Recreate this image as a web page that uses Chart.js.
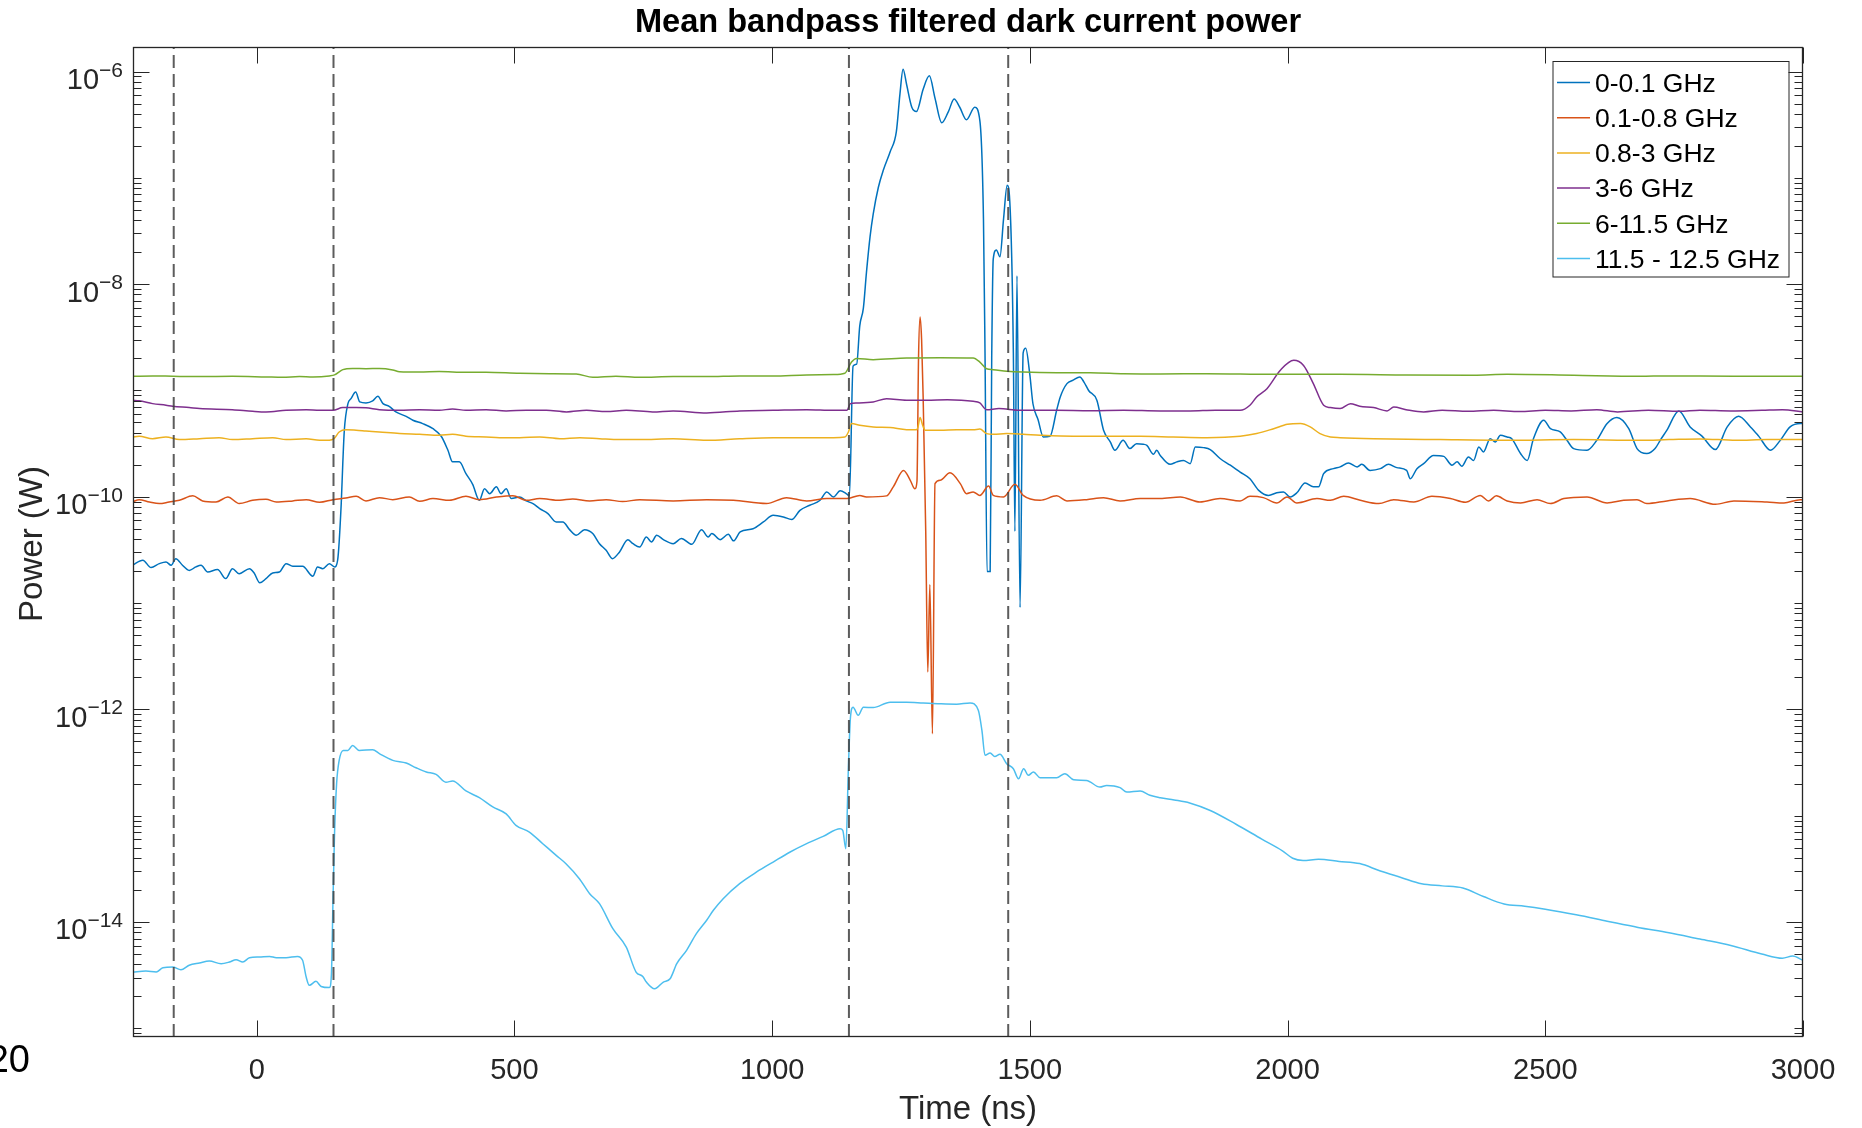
<!DOCTYPE html>
<html>
<head>
<meta charset="utf-8">
<script src="https://cdn.jsdelivr.net/npm/chart.js@4.4.1/dist/chart.umd.min.js"></script>
<style>
html,body{margin:0;padding:0;background:#fff;}
canvas{display:block;}
</style>
</head>
<body>
<canvas id="c" width="1862" height="1128"></canvas>
<script>
// ---------------- DATA (time in ns, power in W) ----------------
const chartTitle = 'Mean bandpass filtered dark current power';
const xAxisTitle = 'Time (ns)';
const yAxisTitle = 'Power (W)';
const seriesNames = ['0-0.1 GHz', '0.1-0.8 GHz', '0.8-3 GHz', '3-6 GHz', '6-11.5 GHz', '11.5 - 12.5 GHz'];
const xTickValues = [0, 500, 1000, 1500, 2000, 2500, 3000];
const yLabelExps = [-6, -8, -10, -12, -14];
const markerTimes = [-161, 149, 1149, 1458];
const xRange = [-240, 3000];
const yRange = [8.3e-16, 1.7e-6];

const band0 = [[-241,2.27e-11],[-221,2.53e-11],[-205,2.16e-11],[-189,2.35e-11],[-176,2.44e-11],[-166,2.27e-11],[-157,2.62e-11],[-144,2.27e-11],[-131,2.03e-11],[-118,2.19e-11],[-108,2.27e-11],[-95,1.96e-11],[-76,2.07e-11],[-60,1.70e-11],[-47,2.11e-11],[-34,1.89e-11],[-14,2.11e-11],[-5,1.92e-11],[6,1.55e-11],[18,1.70e-11],[31,1.92e-11],[44,1.96e-11],[57,2.35e-11],[70,2.22e-11],[89,2.22e-11],[109,1.79e-11],[118,2.19e-11],[128,2.11e-11],[141,2.35e-11],[151,2.19e-11],[157,2.53e-11],[164,8.63e-11],[167,2.05e-10],[170,4.23e-10],[177,7.52e-10],[183,8.38e-10],[192,9.68e-10],[200,7.80e-10],[212,7.63e-10],[225,7.97e-10],[235,8.81e-10],[245,7.52e-10],[257,7.10e-10],[270,6.28e-10],[290,5.71e-10],[303,5.25e-10],[322,4.88e-10],[342,4.37e-10],[358,3.71e-10],[371,2.74e-10],[380,2.13e-10],[393,2.13e-10],[406,1.65e-10],[419,1.31e-10],[432,9.27e-11],[442,1.19e-10],[452,1.07e-10],[465,1.24e-10],[474,1.07e-10],[484,1.19e-10],[494,9.62e-11],[510,9.96e-11],[523,9.14e-11],[536,8.63e-11],[549,7.74e-11],[565,6.95e-11],[581,5.80e-11],[594,5.80e-11],[607,4.91e-11],[620,4.35e-11],[636,4.91e-11],[652,4.51e-11],[665,3.62e-11],[678,3.14e-11],[690,2.62e-11],[704,3.03e-11],[720,3.95e-11],[730,3.62e-11],[743,3.37e-11],[756,4.19e-11],[766,3.76e-11],[776,4.35e-11],[789,3.95e-11],[808,3.62e-11],[824,4.05e-11],[844,3.57e-11],[863,4.91e-11],[876,4.19e-11],[883,4.51e-11],[899,3.95e-11],[915,4.44e-11],[925,3.85e-11],[938,4.67e-11],[963,5.01e-11],[983,5.80e-11],[1002,6.70e-11],[1022,6.46e-11],[1038,6.10e-11],[1054,7.46e-11],[1073,8.32e-11],[1093,9.27e-11],[1106,1.11e-10],[1119,9.96e-11],[1132,1.14e-10],[1145,1.06e-10],[1150,1.02e-10],[1157,1.69e-9],[1164,1.77e-9],[1170,4.05e-9],[1177,5.94e-9],[1183,1.29e-8],[1190,2.80e-8],[1196,4.54e-8],[1206,8.11e-8],[1216,1.19e-7],[1229,1.76e-7],[1241,2.72e-7],[1248,6.17e-7],[1254,1.05e-6],[1261,7.50e-7],[1271,4.61e-7],[1280,4.20e-7],[1293,6.81e-7],[1305,9.10e-7],[1316,5.61e-7],[1329,3.29e-7],[1342,4.20e-7],[1353,5.50e-7],[1364,4.61e-7],[1377,3.52e-7],[1393,4.61e-7],[1403,3.45e-7],[1410,4.11e-8],[1413,2.26e-9],[1417,1.98e-11],[1423,1.98e-11],[1426,2.0e-9],[1429,1.73e-8],[1435,2.10e-8],[1442,1.81e-8],[1449,4.11e-8],[1456,8.50e-8],[1461,6.07e-8],[1468,2.26e-9],[1471,4.73e-11],[1475,1.2e-8],[1481,9.1e-12],[1487,2.26e-9],[1492,2.49e-9],[1500,1.40e-9],[1506,7.5e-10],[1516,5.3e-10],[1526,3.66e-10],[1539,3.70e-10],[1552,6.51e-10],[1559,8.69e-10],[1572,1.16e-9],[1584,1.25e-9],[1597,1.34e-9],[1605,1.20e-9],[1614,1.00e-9],[1630,8.10e-10],[1643,4.23e-10],[1656,3.28e-10],[1665,2.74e-10],[1681,3.40e-10],[1694,2.84e-10],[1707,3.16e-10],[1720,3.12e-10],[1727,3.05e-10],[1740,2.51e-10],[1746,2.74e-10],[1753,2.45e-10],[1772,2.02e-10],[1785,2.13e-10],[1798,2.20e-10],[1811,2.05e-10],[1821,2.94e-10],[1837,2.90e-10],[1850,2.78e-10],[1869,2.29e-10],[1889,1.98e-10],[1908,1.71e-10],[1927,1.48e-10],[1944,1.15e-10],[1963,1.03e-10],[1979,1.09e-10],[1992,1.11e-10],[2005,9.96e-11],[2018,1.09e-10],[2034,1.35e-10],[2050,1.24e-10],[2060,1.24e-10],[2070,1.65e-10],[2089,1.84e-10],[2102,1.91e-10],[2118,2.08e-10],[2135,1.91e-10],[2144,2.02e-10],[2160,1.77e-10],[2180,1.84e-10],[2196,2.02e-10],[2212,1.88e-10],[2231,1.77e-10],[2238,1.48e-10],[2251,1.84e-10],[2264,2.05e-10],[2283,2.45e-10],[2303,2.40e-10],[2319,1.98e-10],[2329,2.13e-10],[2338,1.94e-10],[2351,2.37e-10],[2361,2.20e-10],[2371,2.94e-10],[2380,2.64e-10],[2393,3.52e-10],[2403,3.28e-10],[2413,3.79e-10],[2426,3.65e-10],[2435,3.52e-10],[2452,2.55e-10],[2465,2.20e-10],[2477,3.52e-10],[2497,5.25e-10],[2510,4.37e-10],[2529,4.07e-10],[2542,3.40e-10],[2555,2.84e-10],[2581,2.74e-10],[2600,3.40e-10],[2620,4.88e-10],[2639,5.56e-10],[2662,4.37e-10],[2678,2.84e-10],[2697,2.55e-10],[2713,2.84e-10],[2723,3.40e-10],[2736,4.23e-10],[2759,6.41e-10],[2781,4.54e-10],[2804,3.72e-10],[2830,2.78e-10],[2853,4.54e-10],[2875,5.71e-10],[2898,4.54e-10],[2914,3.72e-10],[2937,2.74e-10],[2956,3.40e-10],[2975,4.54e-10],[2995,4.88e-10],[3000,4.88e-10]];

const band1 = [[-241,8.93e-11],[-228,9.40e-11],[-208,8.93e-11],[-189,8.63e-11],[-170,8.93e-11],[-150,9.27e-11],[-124,1.02e-10],[-105,9.14e-11],[-79,8.93e-11],[-56,9.96e-11],[-34,8.63e-11],[-8,9.27e-11],[18,9.48e-11],[38,8.93e-11],[70,9.14e-11],[96,9.40e-11],[122,8.87e-11],[148,9.40e-11],[173,9.75e-11],[193,1.01e-10],[212,9.14e-11],[238,9.82e-11],[264,9.40e-11],[296,9.96e-11],[316,9.08e-11],[342,9.62e-11],[374,9.27e-11],[406,1.01e-10],[432,9.40e-11],[465,9.96e-11],[497,1.025e-10],[523,9.27e-11],[549,9.62e-11],[588,9.27e-11],[613,9.55e-11],[646,9.14e-11],[678,9.40e-11],[710,9.01e-11],[743,9.40e-11],[808,9.14e-11],[873,9.40e-11],[925,9.27e-11],[989,8.63e-11],[1028,9.82e-11],[1067,9.14e-11],[1106,9.62e-11],[1145,9.62e-11],[1170,1.03e-10],[1183,9.96e-11],[1222,1.02e-10],[1235,1.24e-10],[1255,1.77e-10],[1268,1.43e-10],[1277,1.19e-10],[1281,1.4e-10],[1284,2.0e-9],[1287,4.9e-9],[1290,3.0e-9],[1293,8.6e-10],[1298,4.7e-11],[1302,2.25e-12],[1306,1.5e-11],[1311,5.9e-13],[1316,1.33e-10],[1326,1.43e-10],[1345,1.68e-10],[1365,1.33e-10],[1377,1.07e-10],[1390,1.11e-10],[1403,1.03e-10],[1420,1.26e-10],[1429,1.03e-10],[1449,9.96e-11],[1471,1.31e-10],[1487,1.03e-10],[1520,9.27e-11],[1552,1.02e-10],[1572,9.14e-11],[1610,9.40e-11],[1643,9.82e-11],[1675,9.14e-11],[1714,9.62e-11],[1753,9.62e-11],[1792,9.96e-11],[1830,8.93e-11],[1869,9.62e-11],[1908,9.14e-11],[1927,1.01e-10],[1953,9.82e-11],[1979,8.75e-11],[1999,9.96e-11],[2018,8.75e-11],[2057,9.62e-11],[2083,9.27e-11],[2109,1.01e-10],[2141,9.27e-11],[2177,8.63e-11],[2206,9.40e-11],[2245,8.93e-11],[2280,1.01e-10],[2316,9.62e-11],[2345,8.87e-11],[2374,1.03e-10],[2390,9.14e-11],[2405,1.02e-10],[2426,9.14e-11],[2452,8.75e-11],[2484,9.40e-11],[2510,8.63e-11],[2536,9.62e-11],[2581,9.96e-11],[2620,8.75e-11],[2652,9.27e-11],[2678,9.40e-11],[2697,8.63e-11],[2736,9.14e-11],[2781,9.62e-11],[2830,8.50e-11],[2866,9.14e-11],[2930,8.93e-11],[2963,8.75e-11],[2995,9.40e-11],[3000,9.40e-11]];

const band2 = [[-241,3.65e-10],[-228,3.71e-10],[-202,3.52e-10],[-176,3.65e-10],[-150,3.45e-10],[-111,3.52e-10],[-73,3.60e-10],[-47,3.45e-10],[-8,3.52e-10],[31,3.60e-10],[57,3.45e-10],[96,3.52e-10],[122,3.40e-10],[141,3.40e-10],[150,3.52e-10],[160,4.07e-10],[173,4.28e-10],[193,4.23e-10],[212,4.16e-10],[238,4.07e-10],[277,3.93e-10],[316,3.87e-10],[354,3.79e-10],[380,3.87e-10],[406,3.71e-10],[445,3.65e-10],[471,3.60e-10],[510,3.60e-10],[549,3.65e-10],[588,3.52e-10],[627,3.60e-10],[665,3.52e-10],[704,3.45e-10],[743,3.45e-10],[808,3.52e-10],[873,3.40e-10],[937,3.52e-10],[1002,3.60e-10],[1067,3.60e-10],[1119,3.60e-10],[1141,3.65e-10],[1148,4.07e-10],[1154,4.88e-10],[1170,4.71e-10],[1196,4.54e-10],[1229,4.48e-10],[1261,4.28e-10],[1280,4.28e-10],[1283,4.54e-10],[1287,5.56e-10],[1292,4.71e-10],[1297,4.23e-10],[1326,4.23e-10],[1358,4.28e-10],[1390,4.28e-10],[1403,4.33e-10],[1416,3.93e-10],[1429,3.87e-10],[1455,3.93e-10],[1487,3.87e-10],[1520,3.79e-10],[1584,3.71e-10],[1649,3.71e-10],[1714,3.71e-10],[1778,3.65e-10],[1843,3.60e-10],[1908,3.71e-10],[1940,3.93e-10],[1973,4.37e-10],[2000,4.81e-10],[2025,4.88e-10],[2044,4.54e-10],[2063,3.93e-10],[2083,3.65e-10],[2102,3.60e-10],[2167,3.52e-10],[2296,3.45e-10],[2426,3.40e-10],[2555,3.45e-10],[2684,3.40e-10],[2740,3.45e-10],[2800,3.50e-10],[2870,3.40e-10],[2930,3.45e-10],[3000,3.45e-10]];

const band3 = [[-241,8.09e-10],[-228,8.0e-10],[-202,7.52e-10],[-176,7.26e-10],[-163,7.10e-10],[-131,6.90e-10],[-111,6.75e-10],[-47,6.60e-10],[-8,6.37e-10],[18,6.28e-10],[57,6.51e-10],[96,6.60e-10],[122,6.51e-10],[148,6.51e-10],[167,6.90e-10],[193,6.90e-10],[212,6.86e-10],[238,6.60e-10],[277,6.51e-10],[316,6.60e-10],[354,6.51e-10],[380,6.70e-10],[406,6.51e-10],[445,6.60e-10],[484,6.42e-10],[523,6.51e-10],[562,6.51e-10],[601,6.28e-10],[640,6.51e-10],[678,6.33e-10],[717,6.51e-10],[768,6.28e-10],[808,6.42e-10],[873,6.15e-10],[937,6.42e-10],[1002,6.51e-10],[1067,6.60e-10],[1119,6.51e-10],[1145,6.51e-10],[1152,7.52e-10],[1164,7.63e-10],[1196,7.80e-10],[1222,8.38e-10],[1261,8.09e-10],[1300,8.09e-10],[1340,8.20e-10],[1390,7.91e-10],[1403,7.63e-10],[1416,6.60e-10],[1440,6.75e-10],[1480,6.51e-10],[1552,6.51e-10],[1617,6.46e-10],[1682,6.51e-10],[1753,6.42e-10],[1811,6.42e-10],[1860,6.51e-10],[1908,6.51e-10],[1927,7.26e-10],[1940,8.69e-10],[1960,1.04e-9],[1986,1.55e-9],[2012,1.92e-9],[2031,1.72e-9],[2050,1.16e-9],[2070,7.26e-10],[2083,6.90e-10],[2102,6.75e-10],[2122,7.52e-10],[2140,7.10e-10],[2167,6.90e-10],[2193,6.42e-10],[2206,6.98e-10],[2230,6.60e-10],[2264,6.28e-10],[2300,6.51e-10],[2350,6.37e-10],[2400,6.51e-10],[2450,6.33e-10],[2500,6.51e-10],[2550,6.42e-10],[2600,6.60e-10],[2640,6.28e-10],[2700,6.51e-10],[2760,6.37e-10],[2800,6.51e-10],[2860,6.42e-10],[2920,6.51e-10],[2960,6.60e-10],[3000,6.28e-10]];

const band4 = [[-241,1.36e-9],[-202,1.37e-9],[-163,1.36e-9],[-111,1.35e-9],[-47,1.36e-9],[18,1.34e-9],[50,1.33e-9],[83,1.35e-9],[109,1.34e-9],[141,1.37e-9],[151,1.40e-9],[167,1.57e-9],[186,1.61e-9],[212,1.60e-9],[238,1.61e-9],[264,1.56e-9],[277,1.50e-9],[316,1.49e-9],[354,1.51e-9],[406,1.48e-9],[445,1.48e-9],[510,1.45e-9],[568,1.44e-9],[620,1.43e-9],[652,1.33e-9],[697,1.36e-9],[743,1.33e-9],[808,1.35e-9],[873,1.35e-9],[937,1.37e-9],[1002,1.37e-9],[1067,1.40e-9],[1119,1.41e-9],[1141,1.45e-9],[1154,1.85e-9],[1164,2.00e-9],[1196,1.95e-9],[1261,2.02e-9],[1326,2.03e-9],[1390,2.02e-9],[1403,1.85e-9],[1416,1.60e-9],[1429,1.57e-9],[1455,1.52e-9],[1487,1.49e-9],[1552,1.47e-9],[1617,1.47e-9],[1682,1.44e-9],[1753,1.43e-9],[1843,1.44e-9],[1973,1.42e-9],[2102,1.42e-9],[2231,1.40e-9],[2361,1.39e-9],[2426,1.42e-9],[2555,1.39e-9],[2684,1.36e-9],[2736,1.37e-9],[2866,1.36e-9],[3000,1.36e-9]];

const band5 = [[-241,3.39e-15],[-215,3.46e-15],[-195,3.39e-15],[-182,3.72e-15],[-163,3.78e-15],[-147,3.56e-15],[-131,3.92e-15],[-111,4.12e-15],[-92,4.30e-15],[-69,4.06e-15],[-53,4.21e-15],[-40,4.43e-15],[-27,4.21e-15],[-14,4.62e-15],[5,4.69e-15],[25,4.75e-15],[38,4.62e-15],[57,4.62e-15],[79,4.75e-15],[89,4.37e-15],[96,3.04e-15],[102,2.54e-15],[115,2.77e-15],[125,2.48e-15],[141,2.42e-15],[145,3.27e-15],[148,1.6e-14],[151,6.78e-14],[155,2.0e-13],[160,3.32e-13],[168,4.12e-13],[177,4.12e-13],[186,4.59e-13],[199,4.12e-13],[225,4.18e-13],[238,3.84e-13],[264,3.32e-13],[290,3.13e-13],[309,2.83e-13],[329,2.58e-13],[348,2.45e-13],[367,2.07e-13],[380,2.12e-13],[406,1.71e-13],[432,1.48e-13],[458,1.21e-13],[484,1.04e-13],[503,8.13e-14],[529,7.03e-14],[555,5.46e-14],[581,4.24e-14],[600,3.54e-14],[626,2.56e-14],[646,1.85e-14],[665,1.49e-14],[691,8.67e-15],[717,5.82e-15],[736,3.39e-15],[749,3.08e-15],[756,2.73e-15],[772,2.36e-15],[789,2.73e-15],[802,2.93e-15],[815,4.06e-15],[834,5.42e-15],[853,7.78e-15],[873,1.04e-14],[886,1.29e-14],[905,1.66e-14],[937,2.30e-14],[970,2.96e-14],[1002,3.67e-14],[1035,4.56e-14],[1067,5.46e-14],[1099,6.40e-14],[1132,7.55e-14],[1137,7.29e-14],[1143,4.9e-14],[1148,2.87e-13],[1152,8.49e-13],[1157,1.05e-12],[1167,8.81e-13],[1177,1.05e-12],[1196,1.04e-12],[1229,1.17e-12],[1261,1.17e-12],[1293,1.15e-12],[1326,1.13e-12],[1358,1.12e-12],[1384,1.15e-12],[1400,9.82e-13],[1407,6.35e-13],[1413,3.7e-13],[1423,3.89e-13],[1432,3.6e-13],[1442,3.78e-13],[1455,3.09e-13],[1468,2.77e-13],[1478,2.23e-13],[1488,2.77e-13],[1497,2.40e-13],[1507,2.58e-13],[1520,2.28e-13],[1552,2.28e-13],[1568,2.49e-13],[1585,2.18e-13],[1610,2.15e-13],[1636,1.86e-13],[1649,1.93e-13],[1675,1.84e-13],[1688,1.67e-13],[1714,1.71e-13],[1733,1.56e-13],[1753,1.48e-13],[1780,1.41e-13],[1810,1.32e-13],[1850,1.12e-13],[1900,8.32e-14],[1950,6.03e-14],[1990,4.68e-14],[2010,3.98e-14],[2030,3.80e-14],[2060,3.89e-14],[2100,3.72e-14],[2140,3.55e-14],[2180,3.02e-14],[2220,2.63e-14],[2260,2.29e-14],[2300,2.19e-14],[2340,2.09e-14],[2380,1.74e-14],[2420,1.48e-14],[2460,1.41e-14],[2500,1.32e-14],[2560,1.17e-14],[2620,1.02e-14],[2680,8.91e-15],[2740,7.94e-15],[2800,6.92e-15],[2860,6.03e-15],[2920,5.01e-15],[2960,4.57e-15],[2980,4.79e-15],[3000,4.37e-15]];

const seriesData = [band0, band1, band2, band3, band4, band5];
const seriesColors = ['#0072BD', '#D95319', '#EDB120', '#7E2F8E', '#77AC30', '#4DBEEE'];

// ---------------- CHART ----------------
const FONT = '"Liberation Sans", Arial, Helvetica, sans-serif';
const AX = '#262626';

const datasets = seriesData.map((s, i) => ({
  label: seriesNames[i],
  data: s.map(p => ({x: p[0], y: p[1]})),
  borderColor: seriesColors[i],
  borderWidth: 1.5,
  pointRadius: 0,
  cubicInterpolationMode: 'monotone',
  fill: false,
  order: 10 - i
}));
markerTimes.forEach(t => {
  datasets.push({
    label: '',
    data: [{x: t, y: yRange[0]}, {x: t, y: yRange[1]}],
    borderColor: 'rgba(64,64,64,0.85)',
    borderWidth: 2,
    borderDash: [13, 6],
    pointRadius: 0,
    fill: false,
    order: 0
  });
});

const decor = {
  id: 'decor',
  afterDraw(chart) {
    const {ctx, chartArea: a} = chart;
    const xs = chart.scales.x, ys = chart.scales.y;
    ctx.save();
    const L = Math.round(a.left) + 0.5, R = Math.round(a.right) - 0.5;
    const T = Math.round(a.top) + 0.5, B = Math.round(a.bottom) - 0.5;
    // ticks (inward, on all four sides)
    ctx.strokeStyle = AX;
    ctx.lineWidth = 1;
    ctx.beginPath();
    xTickValues.forEach(v => {
      const px = Math.round(xs.getPixelForValue(v)) + 0.5;
      ctx.moveTo(px, B); ctx.lineTo(px, B - 16);
      ctx.moveTo(px, T); ctx.lineTo(px, T + 16);
    });
    for (let e = -16; e <= -5; e++) {
      for (let m = 1; m <= 9; m++) {
        const v = m * Math.pow(10, e);
        if (v < ys.min || v > ys.max) continue;
        const py = Math.round(ys.getPixelForValue(v)) + 0.5;
        const len = (m === 1 && yLabelExps.includes(e)) ? 16 : 8;
        ctx.moveTo(L, py); ctx.lineTo(L + len, py);
        ctx.moveTo(R, py); ctx.lineTo(R - len, py);
      }
    }
    ctx.stroke();
    // box
    ctx.lineWidth = 1.3;
    ctx.strokeRect(L, T, R - L, B - T);

    // x tick labels
    ctx.fillStyle = AX;
    ctx.font = '29px ' + FONT;
    ctx.textAlign = 'center';
    ctx.textBaseline = 'alphabetic';
    xTickValues.forEach(v => {
      ctx.fillText(String(v), xs.getPixelForValue(v), a.bottom + 41.5);
    });
    // y tick labels 10^exp
    yLabelExps.forEach(e => {
      const py = ys.getPixelForValue(Math.pow(10, e));
      const expStr = '\u2212' + Math.abs(e);
      ctx.font = '21px ' + FONT;
      const we = ctx.measureText(expStr).width;
      ctx.font = '29px ' + FONT;
      const wb = ctx.measureText('10').width;
      const right = a.left - 10;
      ctx.textAlign = 'left';
      ctx.fillText('10', right - we - wb, py + 17.4);
      ctx.font = '21px ' + FONT;
      ctx.fillText(expStr, right - we, py + 5);
    });
    // axis titles
    ctx.font = '33px ' + FONT;
    ctx.textAlign = 'center';
    ctx.fillText(xAxisTitle, (a.left + a.right) / 2, 1119);
    ctx.save();
    ctx.translate(41.7, (a.top + a.bottom) / 2 + 2);
    ctx.rotate(-Math.PI / 2);
    ctx.fillText(yAxisTitle, 0, 0);
    ctx.restore();
    // title
    ctx.fillStyle = '#000';
    ctx.font = 'bold 32.6px ' + FONT;
    ctx.fillText(chartTitle, (a.left + a.right) / 2, 32);
    // stray page text cut at the left edge
    ctx.font = '38px ' + FONT;
    ctx.textAlign = 'right';
    ctx.fillText('20', 30, 1071.7);

    // legend
    const lx = 1552.5, ly = 61, lw = 236, lh = 215.5;
    ctx.fillStyle = '#fff';
    ctx.fillRect(lx, ly, lw, lh);
    ctx.strokeStyle = AX;
    ctx.lineWidth = 1;
    ctx.strokeRect(lx + 0.5, ly + 0.5, lw, lh);
    ctx.font = '26.5px ' + FONT;
    ctx.textAlign = 'left';
    seriesNames.forEach((name, i) => {
      const cy = 82.5 + i * 35.2;
      ctx.strokeStyle = seriesColors[i];
      ctx.lineWidth = 1.5;
      ctx.beginPath();
      ctx.moveTo(1557, cy); ctx.lineTo(1590, cy);
      ctx.stroke();
      ctx.fillStyle = '#000';
      ctx.fillText(name, 1595, cy + 9.3);
    });
    ctx.restore();
  }
};

new Chart(document.getElementById('c'), {
  type: 'line',
  data: {datasets},
  options: {
    animation: false,
    responsive: false,
    devicePixelRatio: 1,
    layout: {padding: {left: 133, right: 59, top: 47, bottom: 91}},
    plugins: {legend: {display: false}, title: {display: false}, tooltip: {enabled: false}},
    scales: {
      x: {type: 'linear', min: xRange[0], max: xRange[1], bounds: 'data', display: false},
      y: {type: 'logarithmic', min: yRange[0], max: yRange[1], bounds: 'data', display: false}
    }
  },
  plugins: [decor]
});
</script>
</body>
</html>
